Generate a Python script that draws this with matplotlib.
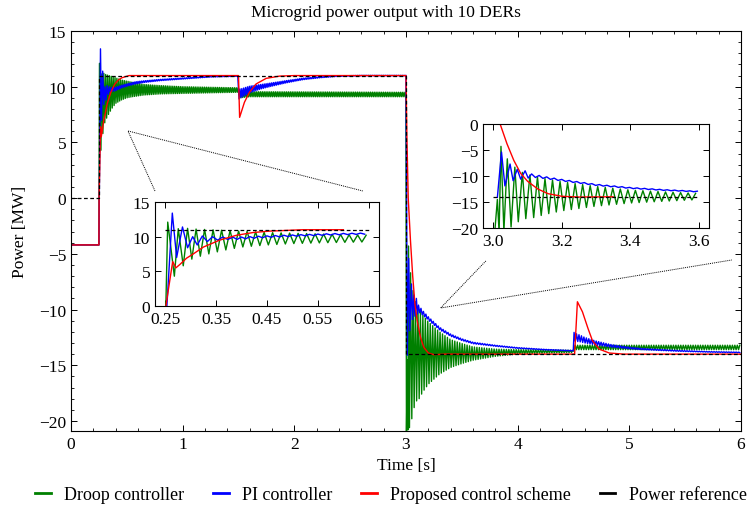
import numpy as np
import matplotlib.pyplot as plt
from matplotlib.ticker import MultipleLocator

plt.rcParams["font.family"] = ["Liberation Serif", "DejaVu Serif"]
plt.rcParams["font.size"] = 12.5
plt.rcParams["axes.linewidth"] = 0.8

# ----------------------------
# DATA
# ----------------------------
# power reference
ref_t = [0.0, 0.25, 0.25, 3.0, 3.0, 6.0]
ref_p = [0.0, 0.0, 11.0, 11.0, -14.0, -14.0]

# proposed control scheme
red_t = [0.0, 0.25, 0.2516, 0.2647, 0.271, 0.279, 0.292, 0.305, 0.325, 0.357, 0.39,
         0.423, 0.455, 0.52, 0.60, 1.50, 1.51, 1.553, 1.598, 1.658, 1.748, 1.867, 2.0,
         3.0, 3.008, 3.02, 3.04, 3.06, 3.08, 3.10, 3.13, 3.16, 3.20, 3.25, 3.35,
         4.51, 4.535, 4.58, 4.63, 4.67, 4.73, 4.82, 4.95, 6.0]
red_p = [-4.2, -4.2, 0.1, 6.4, 5.5, 6.0, 6.9, 7.5, 8.5, 9.5, 10.2,
         10.6, 10.8, 11.0, 11.0, 11.0, 7.25, 8.6, 9.5, 10.25, 10.75, 10.95, 11.0,
         11.0, 5.5, 0.0, -3.8, -7.0, -9.5, -11.0, -12.5, -13.4, -13.9, -14.05, -14.0,
         -14.0, -9.3, -10.2, -11.7, -12.8, -13.55, -13.9, -14.0, -14.0]

# ripple periods
T1 = 0.0167   # before 3 s
T2 = 0.022    # after 3 s

# droop controller: first swings
g0_t = [0.0, 0.25, 0.255, 0.268, 0.2757, 0.2855]
g0_p = [-4.2, -4.2, 12.1, 4.3, 11.15, 5.8]
# droop ripple envelope 0.29 - 3 s
g1_t = [0.294, 0.31, 0.34, 0.37, 0.40, 0.45, 0.50, 0.55, 0.65, 0.80, 1.00, 1.25, 1.50, 1.51, 1.60, 3.00]
g1_hi = [11.2, 11.1, 11.0, 10.9, 10.8, 10.6, 10.5, 10.4, 10.2, 10.1, 10.0, 9.95, 9.9, 9.5, 9.55, 9.5]
g1_lo = [6.5, 7.0, 7.6, 8.1, 8.5, 8.8, 9.0, 9.1, 9.25, 9.35, 9.4, 9.45, 9.5, 9.0, 9.1, 9.1]
# droop swings after the 3 s step
g2_t = [3.004, 3.012, 3.017, 3.0225, 3.031, 3.041, 3.052, 3.063, 3.073, 3.085, 3.095]
g2_p = [-21.0, -14.5, -20.8, -4.3, -20.6, -6.7, -19.8, -8.3, -18.8, -9.3, -18.2]
# droop ripple envelope 3.1 - 6 s
g3_t = [3.107, 3.15, 3.2, 3.3, 3.4, 3.5, 3.6, 3.8, 4.0, 4.2, 4.5, 4.51, 6.0]
g3_hi = [-9.8, -10.5, -11.1, -12.0, -12.7, -13.05, -13.35, -13.55, -13.6, -13.62, -13.65, -13.2, -13.2]
g3_lo = [-18.2, -17.4, -16.7, -15.8, -15.2, -14.85, -14.55, -14.2, -14.0, -13.92, -13.85, -13.6, -13.6]

# PI controller: first swings
b0_t = [0.0, 0.25, 0.264, 0.2725, 0.284, 0.294, 0.304, 0.313, 0.323, 0.333, 0.343, 0.353, 0.363, 0.373]
b0_p = [-4.2, -4.2, 13.4, 7.0, 11.4, 8.4, 10.0, 8.8, 10.1, 9.3, 10.0, 9.5, 9.95, 9.6]
# PI centre line + ripple amplitude
b1_t = [0.383, 0.40, 0.45, 0.52, 0.58, 0.65, 0.80, 0.95, 1.10, 1.25, 1.50]
b1_c = [9.75, 9.8, 10.0, 10.2, 10.35, 10.45, 10.6, 10.7, 10.8, 10.9, 10.95]
b1_a = [0.18, 0.15, 0.12, 0.1, 0.1, 0.08, 0.06, 0.05, 0.04, 0.03, 0.02]
b2_t = [1.505, 1.52, 1.60, 1.70, 1.80, 1.93, 2.08, 2.23, 2.38, 2.60, 3.00]
b2_c = [9.35, 9.4, 9.75, 10.0, 10.2, 10.45, 10.7, 10.85, 10.95, 11.0, 11.0]
b2_a = [0.45, 0.4, 0.3, 0.2, 0.15, 0.1, 0.07, 0.05, 0.03, 0.02, 0.02]
b3s_t = [3.012, 3.024, 3.034, 3.049, 3.058, 3.070, 3.080, 3.093, 3.102]
b3s_p = [-14.1, -5.4, -11.9, -7.7, -10.9, -8.7, -10.6, -9.0, -10.4]
b3_t = [3.112, 3.15, 3.2, 3.3, 3.4, 3.5, 3.6, 3.8, 4.0, 4.25, 4.5]
b3_c = [-9.9, -10.3, -10.8, -11.7, -12.3, -12.7, -13.0, -13.25, -13.45, -13.6, -13.7]
b3_a = [0.3, 0.2, 0.15, 0.12, 0.1, 0.08, 0.07, 0.05, 0.04, 0.03, 0.03]
b4_t = [4.505, 4.52, 4.56, 4.60, 4.70, 4.83, 5.00, 5.12, 5.42, 5.72, 6.00]
b4_c = [-12.45, -12.5, -12.6, -12.75, -13.0, -13.25, -13.45, -13.55, -13.7, -13.8, -13.85]
b4_a = [0.4, 0.35, 0.3, 0.25, 0.18, 0.12, 0.08, 0.06, 0.04, 0.03, 0.03]


def ripple(env_t, hi, lo, period, start_hi=True):
    # alternate between the read upper / lower envelope every half period
    tt = np.arange(env_t[0], env_t[-1], period / 2)
    up = np.interp(tt, env_t, hi)
    dn = np.interp(tt, env_t, lo)
    k = np.arange(len(tt)) % 2
    if not start_hi:
        k = 1 - k
    return tt, np.where(k == 0, up, dn)


def band(env_t, c, a):
    c = np.asarray(c)
    a = np.asarray(a)
    return c + a, c - a


# build droop trace
parts = [(np.array(g0_t), np.array(g0_p)),
         ripple(g1_t, g1_hi, g1_lo, T1),
         (np.array(g2_t), np.array(g2_p)),
         ripple(g3_t, g3_hi, g3_lo, T2)]
droop_t = np.concatenate([p[0] for p in parts])
droop_p = np.concatenate([p[1] for p in parts])

# build PI trace
parts = [(np.array(b0_t), np.array(b0_p)),
         ripple(b1_t, *band(b1_t, b1_c, b1_a), T1),
         ripple(b2_t, *band(b2_t, b2_c, b2_a), T1, start_hi=False),
         (np.array(b3s_t), np.array(b3s_p)),
         ripple(b3_t, *band(b3_t, b3_c, b3_a), T2),
         ripple(b4_t, *band(b4_t, b4_c, b4_a), T2)]
pi_t = np.concatenate([p[0] for p in parts])
pi_p = np.concatenate([p[1] for p in parts])


def draw(ax, lo=None, hi=None, lw=1.0):
    def cut(t, p):
        t = np.asarray(t)
        p = np.asarray(p)
        if lo is None:
            return t, p
        m = (t >= lo) & (t <= hi)
        return t[m], p[m]
    ax.plot(*cut(droop_t, droop_p), color="green", lw=lw)
    ax.plot(*cut(pi_t, pi_p), color="blue", lw=lw)
    ax.plot(*cut(red_t, red_p), color="red", lw=lw)
    if lo is None:
        ax.plot(ref_t, ref_p, color="black", lw=0.9, ls=(0, (3, 2)))
    else:
        ax.plot([lo, hi], [np.interp(lo + 1e-6, ref_t, ref_p)] * 2, color="black", lw=0.9, ls=(0, (3, 2)))


# ----------------------------
# PLOT
# ----------------------------
fig = plt.figure(figsize=(7.55, 5.06), dpi=100)
ax = fig.add_axes([71 / 755, 74 / 506, 670 / 755, 400 / 506])
draw(ax)
ax.set_xlim(0, 6)
ax.set_ylim(-20.9, 15)
ax.xaxis.set_major_locator(MultipleLocator(1))
ax.xaxis.set_minor_locator(MultipleLocator(0.2))
ax.yaxis.set_major_locator(MultipleLocator(5))
ax.yaxis.set_minor_locator(MultipleLocator(1))
ax.tick_params(which="both", direction="in", top=True, right=True)
ax.tick_params(which="major", length=4, width=0.7)
ax.tick_params(which="minor", length=2, width=0.6)
ax.set_xlabel("Time [s]", labelpad=4)
ax.set_ylabel("Power [MW]", labelpad=8)
fig.text(0.511, 0.975, "Microgrid power output with 10 DERs", ha="center", va="center")

# zoom connectors
ax.plot([0.752, 0.51, 2.614], [0.64, 6.03, 0.64], color="black", lw=0.7, ls=(0, (1, 1)))
ax.plot([3.715, 3.31, 5.918], [-5.64, -9.86, -5.55], color="black", lw=0.7, ls=(0, (1, 1)))

# inset 1
ins1 = fig.add_axes([155 / 755, 199 / 506, 224 / 755, 104 / 506])
draw(ins1, 0.25, 0.65)
ins1.set_xlim(0.23, 0.67)
ins1.set_ylim(0, 15)
ins1.set_xticks([0.25, 0.35, 0.45, 0.55, 0.65])
ins1.set_yticks([0, 5, 10, 15])
ins1.tick_params(direction="in", top=True, right=True, length=4, width=0.7)

# inset 2
ins2 = fig.add_axes([483 / 755, 277 / 506, 226 / 755, 104 / 506])
draw(ins2, 3.0, 3.6)
ins2.set_xlim(2.97, 3.63)
ins2.set_ylim(-20, 0)
ins2.set_xticks([3.0, 3.2, 3.4, 3.6])
ins2.set_xticklabels(["3.0", "3.2", "3.4", "3.6"])
ins2.set_yticks([0, -5, -10, -15, -20])
ins2.tick_params(direction="in", top=True, right=True, length=4, width=0.7)

# legend
handles = [plt.Line2D([], [], color=c, lw=2) for c in ["green", "blue", "red", "black"]]
labels = ["Droop controller", "PI controller", "Proposed control scheme", "Power reference"]
fig.legend(handles, labels, loc="center", bbox_to_anchor=(0.518, 0.02), ncol=4,
           frameon=False, handlelength=0.85, handletextpad=0.75, columnspacing=1.6,
           borderaxespad=0, borderpad=0, fontsize=13)

fig.savefig("out.png", dpi=100)
